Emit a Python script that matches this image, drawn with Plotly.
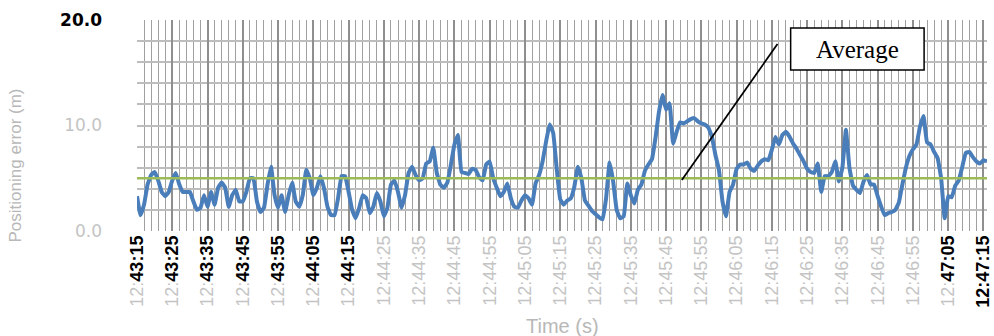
import plotly.graph_objects as go

# ---- data ----
error_m = [
    3.3, 1.5, 2.5, 4.4, 5.3, 5.6, 4.8, 3.7, 3.3, 3.7,
    4.8, 5.5, 4.4, 3.7, 3.7, 3.7, 2.8, 2.0, 2.2, 3.4,
    2.3, 3.7, 2.5, 4.1, 4.6, 4.1, 2.3, 3.4, 3.9, 2.8,
    2.8, 3.7, 5.0, 5.0, 2.8, 1.8, 2.2, 4.4, 6.1, 3.4,
    2.2, 3.4, 1.8, 3.4, 4.6, 2.8, 2.3, 3.4, 5.8, 5.0,
    3.4, 4.1, 5.2, 4.1, 2.3, 1.5, 1.5, 3.1, 5.2, 5.2,
    3.7, 2.0, 1.2, 2.2, 3.4, 3.1, 1.7, 2.3, 3.6, 2.8,
    1.4, 2.2, 4.4, 4.8, 3.7, 2.2, 3.4, 5.5, 6.1, 5.3,
    4.8, 5.0, 6.4, 6.6, 7.9, 5.5, 4.4, 4.1, 4.6, 6.3,
    8.2, 9.1, 5.6, 5.5, 5.4, 5.9, 5.8, 5.1, 4.8, 6.3,
    6.6, 5.0, 4.1, 3.3, 3.7, 4.5, 3.1, 2.3, 2.2, 2.9,
    3.4, 3.1, 2.5, 4.5, 5.3, 6.6, 8.5, 10.1, 9.3, 5.9,
    3.0, 2.5, 2.9, 3.1, 4.2, 6.1, 5.0, 2.9, 2.4, 1.9,
    1.6, 1.3, 1.1, 3.1, 6.5, 4.7, 2.0, 1.2, 1.4, 4.5,
    3.4, 2.6, 3.9, 4.4, 5.7, 6.3, 6.8, 8.8, 11.3, 12.9,
    11.5, 12.1, 8.3, 9.4, 10.3, 10.2, 10.4, 10.6, 10.7, 10.4,
    10.2,
    10.1, 9.8, 8.95, 7.2, 5.8, 2.8, 1.4, 3.7, 4.4, 5.9,
    6.3, 6.3, 6.5, 5.9, 5.7, 6.2, 6.6, 6.8, 6.7, 7.7,
    8.9, 8.2, 9.1, 9.4, 8.95, 8.3, 7.8, 7.2, 6.6, 5.9,
    5.6, 5.5, 6.4, 3.7, 5.2, 5.2, 5.6, 6.6, 4.7, 6.0,
    9.6, 6.0, 4.3, 3.9, 3.6, 4.7, 5.3, 4.4, 4.4, 3.3,
    2.3, 1.5, 1.7, 1.8, 2.0, 2.7, 4.4, 6.0, 7.1, 7.75,
    8.2, 9.9, 10.9, 8.4, 8.2, 7.5, 6.9, 5.0, 1.2, 3.3,
    3.2, 4.3, 4.8, 6.1, 7.4, 7.5, 7.0, 6.6, 6.4, 6.7,
    6.6,
]
seconds = list(range(len(error_m)))  # one sample per second from 12:43:15

tick_seconds = [0, 10, 20, 30, 40, 50, 60, 70, 80, 90, 100, 110, 120,
                130, 140, 150, 160, 170, 180, 190, 200, 210, 220, 230, 240]
tick_labels = ["12:43:15", "12:43:25", "12:43:35", "12:43:45", "12:43:55",
               "12:44:05", "12:44:15", "12:44:25", "12:44:35", "12:44:45",
               "12:44:55", "12:45:05", "12:45:15", "12:45:25", "12:45:35",
               "12:45:45", "12:45:55", "12:46:05", "12:46:15", "12:46:25",
               "12:46:35", "12:46:45", "12:46:55", "12:47:05", "12:47:15"]
average_m = 5.0
y_ticks = [0, 10, 20]
y_tick_labels = ["0.0", "10.0", "20.0"]

# ---- styling ----
FAINT = "#c4c4c4"
styled_x = []
for i, lab in enumerate(tick_labels):
    hh, rest = lab[:3], lab[3:]
    if i <= 6 or i == len(tick_labels) - 2:
        styled_x.append(f"<span style='color:{FAINT}'>{hh}</span><b>{rest}</b>")
    elif i == len(tick_labels) - 1:
        styled_x.append(f"<b>{lab}</b>")
    else:
        styled_x.append(f"<span style='color:{FAINT}'>{lab}</span>")

styled_y = []
for lab in y_tick_labels:
    if lab == y_tick_labels[-1]:
        styled_y.append(f"<b>{lab}</b>")
    else:
        styled_y.append(f"<span style='color:{FAINT}'>{lab}</span>")

fig = go.Figure()
fig.add_trace(go.Scatter(
    x=seconds, y=error_m, mode="lines",
    line=dict(color="#4a7ebb", width=4, shape="spline", smoothing=0.3),
    showlegend=False,
))

fig.add_hline(y=average_m, line=dict(color="#9bbb59", width=2.5), layer="above")

# callout line and "Average" box
fig.add_shape(type="line", xref="paper", yref="paper",
              x0=0.641, y0=0.242, x1=0.7535, y1=0.886,
              line=dict(color="black", width=1.8), layer="above")
fig.add_shape(type="rect", xref="paper", yref="paper",
              x0=0.769, x1=0.926, y0=0.763, y1=0.962,
              line=dict(color="black", width=1.5), fillcolor="white", layer="above")
fig.add_annotation(text="Average", xref="paper", yref="paper", x=0.8475, y=0.862,
                   xanchor="center", yanchor="middle", showarrow=False,
                   font=dict(family="Liberation Serif", size=25, color="black"))

# axis titles (faint)
fig.add_annotation(text="Positioning error (m)", xref="paper", yref="paper",
                   x=-0.1425, y=0.31, xanchor="center", yanchor="middle",
                   textangle=-90, showarrow=False,
                   font=dict(family="Liberation Sans", size=17, color="#b8b8b8"))
fig.add_annotation(text="Time (s)", xref="paper", yref="paper",
                   x=0.5, y=-0.45, xanchor="center", yanchor="middle", showarrow=False,
                   font=dict(family="Liberation Sans", size=20, color="#b8b8b8"))

fig.update_layout(
    width=994, height=336,
    margin=dict(l=137, r=1, t=20, b=105),
    plot_bgcolor="white", paper_bgcolor="white",
    font=dict(family="Liberation Sans, Arial", color="black"),
    xaxis=dict(
        range=[0, 241], tickmode="array", tickvals=tick_seconds, ticktext=styled_x,
        tickangle=-90, tickfont=dict(size=18, color="black"),
        ticklabeloverflow="allow",
        showgrid=True, gridcolor="#8f8f8f", gridwidth=2,
        minor=dict(tick0=0, dtick=2, showgrid=True, gridcolor="#a0a0a0", gridwidth=1),
        zeroline=False, showline=False, ticks="",
    ),
    yaxis=dict(
        range=[0, 20], tickmode="array", tickvals=y_ticks, ticktext=styled_y,
        tickfont=dict(family="DejaVu Sans", size=17, color="black"), ticklabelstandoff=34,
        showgrid=True, gridcolor="#bdbdbd", gridwidth=2,
        minor=dict(tick0=0, dtick=2, showgrid=True, gridcolor="#bdbdbd", gridwidth=2),
        zeroline=False, showline=False, ticks="",
    ),
)

fig.write_html("out.html", config={"displayModeBar": False},
               post_script="document.body.style.margin='0';")
